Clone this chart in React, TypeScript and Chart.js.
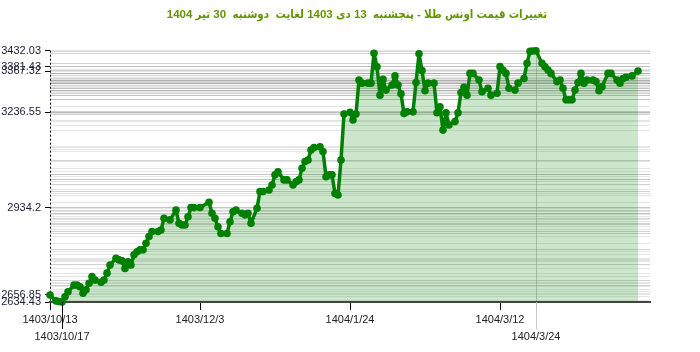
import { useEffect, useRef } from 'react';
import { Chart, registerables } from 'chart.js';

Chart.register(...registerables);

const titleText = 'تغییرات قیمت اونس طلا - پنجشنبه  13 دی 1403 لغایت  دوشنبه  30 تیر 1404';

// day offset from 1403/10/13
const days = [
  0, 2, 3, 4, 5, 6, 8, 9, 10, 11, 12, 13, 14, 15, 17, 18, 19, 20, 22, 23,
  24, 25, 26, 27, 28, 29, 30, 31, 32, 33, 34, 36, 37, 38, 40, 42, 43, 44, 45, 46,
  47, 48, 50, 53, 54, 55, 56, 57, 59, 60, 61, 62, 64, 65, 66, 67, 69, 70, 71, 73,
  74, 75, 76, 78, 79, 81, 82, 83, 84, 85, 86, 87, 88, 90, 91, 92, 93, 94, 95, 96,
  97, 98, 100, 101, 102, 103, 104, 106, 107, 108, 109, 110, 111, 112, 114, 115, 116, 117, 118, 119,
  121, 122, 123, 124, 125, 126, 128, 129, 130, 131, 132, 133, 135, 136, 137, 138, 139, 140, 141, 143,
  144, 146, 147, 149, 150, 151, 152, 153, 155, 156, 158, 159, 160, 161, 162, 164, 165, 166, 167, 169,
  170, 171, 172, 173, 174, 175, 176, 177, 178, 179, 181, 182, 183, 184, 186, 187, 189, 190, 191, 192,
  194, 196,
];

const prices = [
  2656.85, 2638, 2636, 2634.43, 2651, 2667, 2688, 2688, 2683, 2662, 2673, 2694, 2715, 2704, 2697, 2704, 2726, 2752, 2773, 2768,
  2765, 2741, 2762, 2752, 2784, 2794, 2800, 2800, 2821, 2842, 2858, 2858, 2863, 2900, 2895, 2926, 2884, 2879, 2879, 2905,
  2934, 2934, 2934.2, 2951, 2916, 2900, 2873, 2852, 2852, 2889, 2921, 2926, 2916, 2911, 2916, 2884, 2932, 2985, 2985, 2990,
  3006, 3038, 3048, 3022, 3022, 3006, 3016, 3022, 3059, 3080, 3085, 3117, 3125, 3127, 3112, 3032, 3038, 3038, 2979, 2974,
  3085, 3231, 3236.55, 3212, 3231, 3339, 3329, 3329, 3329, 3424, 3381, 3291, 3341, 3307, 3323, 3352, 3323, 3295, 3233, 3238,
  3238, 3331, 3422, 3369, 3305, 3329, 3329, 3235, 3254, 3180, 3235, 3196, 3207, 3235, 3299, 3316, 3291, 3360, 3360, 3339,
  3302, 3313, 3291, 3297, 3381.43, 3370, 3360, 3313, 3307, 3329, 3344, 3392, 3430, 3431, 3432.03, 3392, 3381, 3371, 3360, 3334,
  3339, 3313, 3276, 3276, 3276, 3307, 3331, 3360, 3329, 3339, 3339, 3334, 3305, 3318, 3360, 3360, 3339, 3329, 3344, 3348,
  3352, 3367.32,
];

const xTickDays = [0, 4, 50, 100, 150, 162];
const xTickLabels = ['1403/10/13', '1403/10/17', '1403/12/3', '1404/1/24', '1404/3/12', '1404/3/24'];
const xTickRows = [1, 2, 1, 1, 1, 2];

const yTickValues = [3432.03, 3381.43, 3367.32, 3236.55, 2934.2, 2656.85, 2634.43];
const yTickLabels = ['3432.03', '3381.43', '3367.32', '3236.55', '2934.2', '2656.85', '2634.43'];

const yMin = 2634.43;
const yMax = 3432.03;
const xMin = 0;
const xMax = 200;

const extras = {
  id: 'extras',
  beforeDatasetsDraw(chart: any) {
    const ctx = chart.ctx;
    const a = chart.chartArea;
    ctx.save();
    ctx.strokeStyle = '#000';
    ctx.lineWidth = 1;
    ctx.setLineDash([2, 2]);
    ctx.beginPath();
    ctx.moveTo(Math.round(a.left) + 0.5, a.top);
    ctx.lineTo(Math.round(a.left) + 0.5, a.bottom);
    ctx.stroke();
    ctx.restore();
  },
  afterDraw(chart: any) {
    const s = chart.scales.x;
    const ctx = chart.ctx;
    xTickDays.forEach((d, i) => {
      if (xTickRows[i] !== 2) return;
      const px = Math.round(s.getPixelForValue(d)) + 0.5;
      ctx.save();
      ctx.strokeStyle = i === 5 ? 'rgba(190,190,190,0.8)' : '#000';
      ctx.lineWidth = 1;
      ctx.beginPath();
      ctx.moveTo(px, s.top);
      ctx.lineTo(px, s.top + 27);
      ctx.stroke();
      ctx.restore();
    });
    ctx.save();
    ctx.font = 'bold 11.5px "Liberation Sans", "DejaVu Sans Condensed", "DejaVu Sans", sans-serif';
    ctx.fillStyle = '#669400';
    ctx.textAlign = 'center';
    ctx.textBaseline = 'middle';
    ctx.fillText(titleText, 357, 15);
    ctx.restore();
  },
};

export default function App() {
  const ref = useRef<HTMLCanvasElement>(null);
  useEffect(() => {
    if (!ref.current) return;
    const chart = new Chart(ref.current, {
      type: 'line',
      data: {
        datasets: [
          {
            data: days.map((d, i) => ({ x: d, y: prices[i] })),
            borderColor: '#008000',
            backgroundColor: 'rgba(0,128,0,0.2)',
            borderWidth: 3.5,
            borderJoinStyle: 'round',
            borderCapStyle: 'round',
            pointRadius: 3.8,
            pointBackgroundColor: '#008000',
            pointBorderWidth: 0,
            pointHoverRadius: 3.8,
            fill: 'start',
            tension: 0,
            clip: false as any,
          },
        ],
      },
      options: {
        animation: false,
        responsive: false,
        devicePixelRatio: 1,
        layout: { padding: { left: 0, right: 50, top: 50.7, bottom: 0 } },
        plugins: {
          legend: { display: false },
          tooltip: { enabled: false },
          title: { display: false },
        },
        scales: {
          x: {
            type: 'linear',
            min: xMin,
            max: xMax,
            bounds: 'data',
            afterBuildTicks: (scale: any) => {
              scale.ticks = xTickDays.map((v) => ({ value: v }));
            },
            afterFit: (scale: any) => {
              scale.height = 50;
            },
            ticks: {
              autoSkip: false,
              maxRotation: 0,
              minRotation: 0,
              padding: 1,
              color: '#222',
              font: { family: 'Liberation Sans, Arial, sans-serif', size: 11, lineHeight: 17 / 11 },
              callback: (_v: any, i: number) =>
                xTickRows[i] === 2 ? ['', xTickLabels[i]] : xTickLabels[i],
            },
            grid: {
              drawOnChartArea: true,
              color: (c: any) => (c.tick && c.tick.value === 162 ? 'rgba(190,190,190,0.8)' : 'rgba(0,0,0,0)'),
              tickColor: (c: any) => (c.tick && c.tick.value === 162 ? 'rgba(190,190,190,0.8)' : '#000'),
              tickLength: 8,
            },
            border: { display: true, color: '#444', width: 2 },
          },
          y: {
            type: 'linear',
            min: yMin,
            max: yMax,
            bounds: 'data',
            afterBuildTicks: (scale: any) => {
              scale.ticks = prices.map((v) => ({ value: v }));
            },
            afterFit: (scale: any) => {
              scale.width = 50;
            },
            ticks: {
              autoSkip: false,
              padding: 4,
              color: '#1c1c3a',
              font: { family: 'Liberation Sans, Arial, sans-serif', size: 11 },
              callback: (v: any) => {
                const k = yTickValues.indexOf(Number(v));
                return k >= 0 ? yTickLabels[k] : '';
              },
            },
            grid: {
              color: 'rgba(160,160,160,0.28)',
              tickColor: (c: any) =>
                c.tick && yTickValues.indexOf(c.tick.value) >= 0 ? '#000' : 'rgba(0,0,0,0)',
              tickLength: 5,
            },
            border: { display: false },
          },
        },
      },
      plugins: [extras],
    });
    return () => chart.destroy();
  }, []);
  return (
    <div style={{ position: 'absolute', left: 0, top: 0, width: 700, height: 352, background: '#fff' }}>
      <canvas ref={ref} width={700} height={352} />
    </div>
  );
}
